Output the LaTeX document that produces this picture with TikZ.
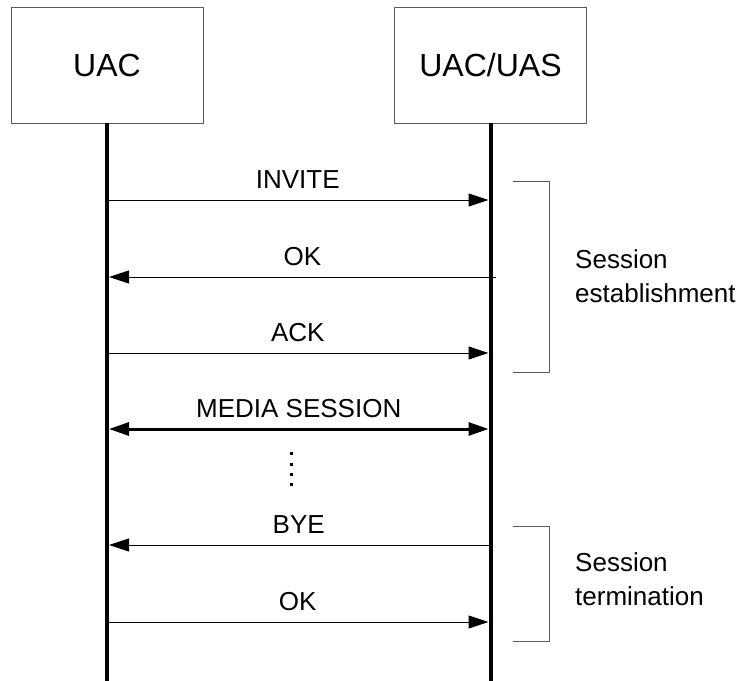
\documentclass[tikz,border=0pt]{standalone}
\usepackage{fontspec}
\setmainfont{Liberation Sans}
\usetikzlibrary{arrows.meta}
\begin{document}
\begin{tikzpicture}[x=1pt,y=-1pt,
  entity/.style={draw=black!65,line width=0.9pt,minimum width=192pt,minimum height=116pt,font=\fontsize{32}{38}\selectfont,inner sep=0pt},
  lifeline/.style={line width=4pt},
  msg/.style={line width=1pt,-{Triangle[length=20pt,width=13pt]}},
  media/.style={line width=3pt,{Triangle[length=20pt,width=13pt]}-{Triangle[length=20pt,width=13pt]}},
  lbl/.style={font=\fontsize{26}{30}\selectfont,inner sep=0pt},
  dot/.style={fill=black,minimum size=3pt,inner sep=0pt},
  bracket/.style={draw=black!65,line width=0.9pt},
  note/.style={font=\fontsize{26}{34}\selectfont,align=left,anchor=base west,inner sep=0pt}]
\useasboundingbox (0,0) rectangle (740,681);

% participants
\node[entity] (uac) at (107,65) {UAC};
\node[entity] (uas) at (490.5,65) {UAC/UAS};

% lifelines
\coordinate (uacEnd) at (107,681);
\coordinate (uasEnd) at (490.5,681);
\draw[lifeline] (uac.south) -- (uacEnd);
\draw[lifeline] (uas.south) -- (uasEnd);

% message end points on the lifelines
\coordinate (l1) at (107,200);  \coordinate (r1) at (488.5,200);
\coordinate (l2) at (109,277);  \coordinate (r2) at (496,277);
\coordinate (l3) at (107,353);  \coordinate (r3) at (488.5,353);
\coordinate (l4) at (109,429);  \coordinate (r4) at (488.5,429);
\coordinate (l5) at (109,545);  \coordinate (r5) at (488.5,545);
\coordinate (l6) at (107,622);  \coordinate (r6) at (488.5,622);

% messages
\draw[msg] (l1) -- node[lbl,above=11pt] (invite) {INVITE} (r1);
\draw[msg] (r2) -- node[lbl,above=11pt] (ok1) {OK} (l2);
\draw[msg] (l3) -- node[lbl,above=11pt] (ack) {ACK} (r3);
\draw[media] (l4) -- node[lbl,above=10pt] (ms) {MEDIA SESSION} (r4);
\draw[msg] (r5) -- node[lbl,above=11pt] (bye) {BYE} (l5);
\draw[msg] (l6) -- node[lbl,above=11pt] (ok2) {OK} (r6);

% continuation dots
\node[dot] (d1) at (291,453) {};
\node[dot] (d2) at (291,464) {};
\node[dot] (d3) at (291,474) {};
\node[dot] (d4) at (291,484) {};

% phase brackets
\coordinate (b1a) at (513,181); \coordinate (b1b) at (549,181);
\coordinate (b1c) at (549,372); \coordinate (b1d) at (513,372);
\draw[bracket] (b1a) -- (b1b) -- (b1c) -- (b1d);
\coordinate (b2a) at (513,526); \coordinate (b2b) at (549,526);
\coordinate (b2c) at (549,641); \coordinate (b2d) at (513,641);
\draw[bracket] (b2a) -- (b2b) -- (b2c) -- (b2d);

\node[note] (est) at (575,302) {Session\\establishment};
\node[note] (term) at (575,605) {Session\\termination};
\end{tikzpicture}
\end{document}
